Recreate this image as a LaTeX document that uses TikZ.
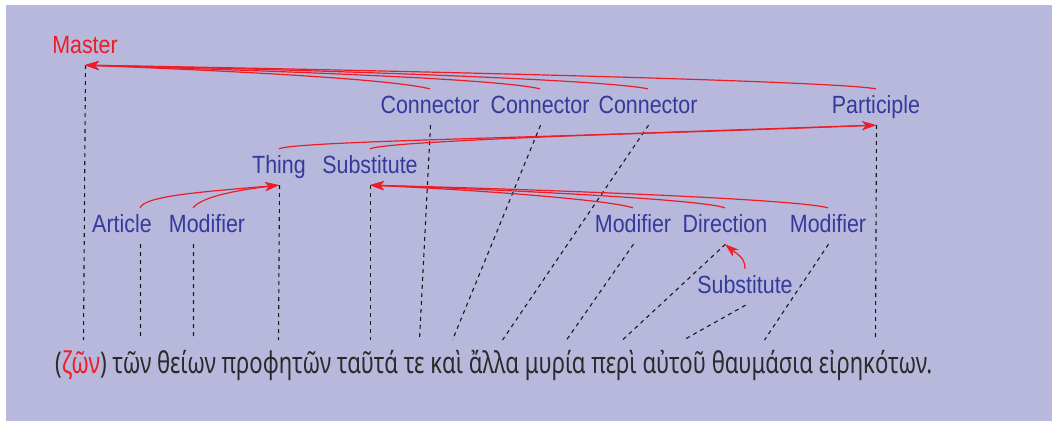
\documentclass[tikz,border=0pt]{standalone}
\usepackage{fontspec}
\usepackage{graphicx}
\setmainfont[FakeStretch=0.86]{Liberation Sans}
\newfontfamily\greekfont{Noto Sans}
\usetikzlibrary{arrows.meta}
\definecolor{lav}{HTML}{B8B8DC}
\definecolor{lblue}{HTML}{343A9A}
\definecolor{ared}{HTML}{EE1C25}
\definecolor{tdark}{HTML}{2A2A2A}
\tikzset{
  lbl/.style={font=\fontsize{25}{28}\selectfont, text=lblue, text height=18pt, text depth=6pt, inner ysep=6pt, inner xsep=0pt, anchor=base},
  dl/.style={draw=black!90, line width=1.1bp, dash pattern=on 4bp off 4bp, transform canvas={xshift=0.5bp}},
  rarr/.style={draw=ared, line width=1.2pt, -{Stealth[length=14pt, width=9pt, inset=4pt]}}
}
\begin{document}
\begin{tikzpicture}[x=1bp, y=-1bp]
\useasboundingbox (0,0) rectangle (1052,421);
\fill[white] (0,0) rectangle (1052,421);
\fill[lav] (6,5) rectangle (1052,421);

% labels
\node[lbl, text=ared] (master) at (85,53) {Master};
\node[lbl] (c1) at (430,113) {Connector};
\node[lbl] (c2) at (540,113) {Connector};
\node[lbl] (c3) at (648,113) {Connector};
\node[lbl] (part) at (876,113) {Participle};
\node[lbl] (thing) at (279,173) {Thing};
\node[lbl] (sub1) at (370,173) {Substitute};
\node[lbl] (art) at (122,232) {Article};
\node[lbl] (mod1) at (207,232) {Modifier};
\node[lbl] (mod2) at (633,232) {Modifier};
\node[lbl] (dir) at (725,232) {Direction};
\node[lbl] (mod3) at (828,232) {Modifier};
\node[lbl] (sub2) at (745,293) {Substitute};

% Greek sentence
\node[anchor=base west, inner sep=0pt, text=tdark] (greek) at (55,373)
  {\resizebox{877bp}{\height}{\greekfont\fontsize{30}{36}\selectfont (\textcolor{ared}{ζῶν}) τῶν θείων προφητῶν ταῦτά τε καὶ ἄλλα μυρία περὶ αὐτοῦ θαυμάσια εἰρηκότων.}};

% word anchor points
\coordinate (w1) at (83,340);
\coordinate (w2) at (140,340);
\coordinate (w3) at (193,340);
\coordinate (w4) at (278,340);
\coordinate (w5) at (370,340);
\coordinate (w6) at (419,340);
\coordinate (w7) at (452,340);
\coordinate (w8) at (502,340);
\coordinate (w9) at (566,340);
\coordinate (w10) at (622,340);
\coordinate (w11) at (683,340);
\coordinate (w12) at (764,340);
\coordinate (w13) at (875,340);

% dashed projection lines
\draw[dl] (master.south) -- (w1);
\draw[dl] ([xshift=18bp]art.south) -- (w2);
\draw[dl] ([xshift=-14bp]mod1.south) -- (w3);
\draw[dl] (thing.south) -- (w4);
\draw[dl] (sub1.south) -- (w5);
\draw[dl] (c1.south) -- (w6);
\draw[dl] (c2.south) -- (w7);
\draw[dl] (c3.south) -- (w8);
\draw[dl] (mod2.south) -- (w9);
\draw[dl] (dir.south) -- (w10);
\draw[dl] (sub2.south) -- (w11);
\draw[dl] (mod3.south) -- (w12);
\draw[dl] (part.south) -- (w13);

% red dependency arrows
\draw[rarr] (c1.north) .. controls +(-40,-10) and +(150,6) .. (master.south);
\draw[rarr] (c2.north) .. controls +(-40,-10) and +(200,6) .. (master.south);
\draw[rarr] (c3.north) .. controls +(-40,-9) and +(250,5) .. (master.south);
\draw[rarr] (part.north) .. controls +(-40,-8) and +(300,5) .. (master.south);

\draw[rarr] (thing.north) .. controls +(15,-8) and +(-300,12) .. (part.south);
\draw[rarr] (sub1.north) .. controls +(15,-7) and +(-300,10) .. (part.south);

\draw[rarr] ([xshift=18bp]art.north) .. controls +(5,-12) and +(-80,7) .. (thing.south);
\draw[rarr] ([xshift=-14bp]mod1.north) .. controls +(8,-10) and +(-50,6) .. (thing.south);

\draw[rarr] (mod2.north) .. controls +(-20,-7) and +(130,6) .. (sub1.south);
\draw[rarr] (dir.north) .. controls +(-20,-8) and +(150,5) .. (sub1.south);
\draw[rarr] (mod3.north) .. controls +(-25,-8) and +(200,5) .. (sub1.south);

\draw[rarr] (sub2.north) .. controls +(0,-12) and +(12,10) .. (dir.south);
\end{tikzpicture}
\end{document}
